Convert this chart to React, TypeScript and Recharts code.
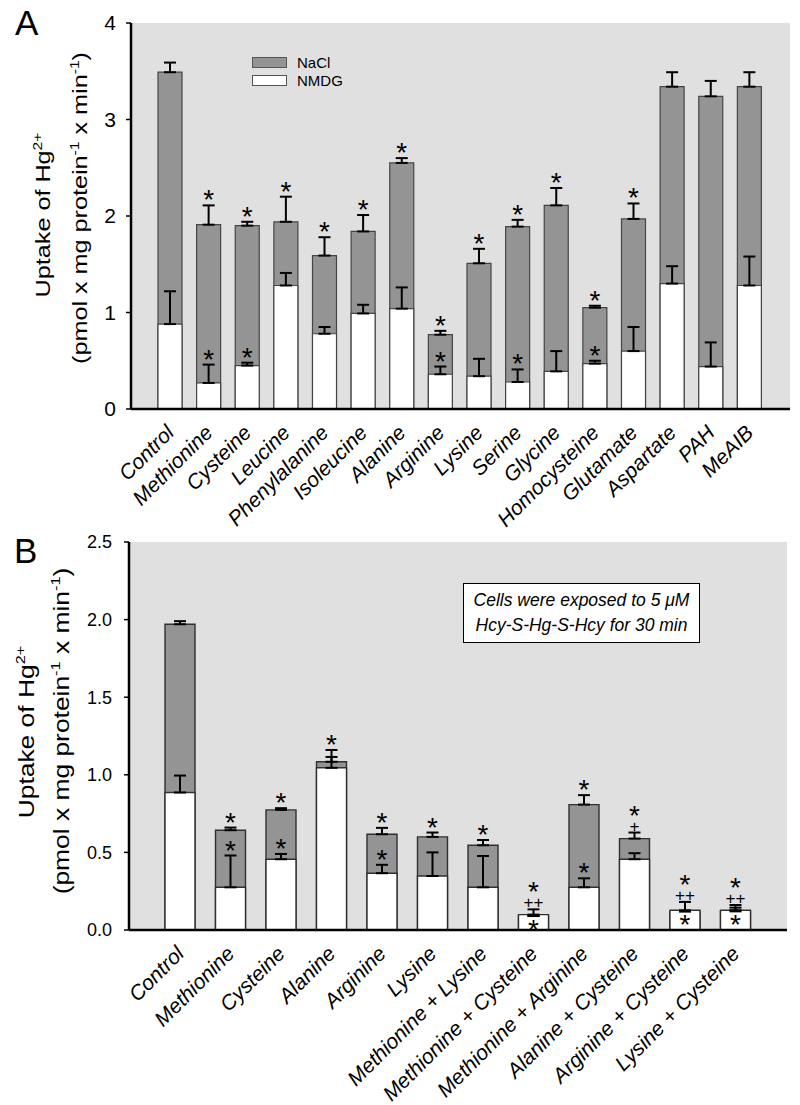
import React from 'react';
import { BarChart, Bar, XAxis, YAxis, CartesianGrid, ErrorBar, LabelList, Legend } from 'recharts';

const FONT = '"Liberation Sans", Arial, Helvetica, sans-serif';

// ---------- Panel A data ----------
const categoriesA = ['Control', 'Methionine', 'Cysteine', 'Leucine', 'Phenylalanine', 'Isoleucine', 'Alanine', 'Arginine', 'Lysine', 'Serine', 'Glycine', 'Homocysteine', 'Glutamate', 'Aspartate', 'PAH', 'MeAIB'];
const naclA = [3.49, 1.91, 1.90, 1.94, 1.59, 1.84, 2.55, 0.77, 1.51, 1.89, 2.11, 1.05, 1.97, 3.34, 3.24, 3.34];
const naclErrA = [0.10, 0.20, 0.04, 0.26, 0.19, 0.17, 0.05, 0.04, 0.15, 0.07, 0.18, 0.02, 0.16, 0.15, 0.16, 0.15];
const nmdgA = [0.88, 0.27, 0.45, 1.28, 0.78, 0.99, 1.04, 0.36, 0.34, 0.28, 0.39, 0.47, 0.60, 1.30, 0.44, 1.28];
const nmdgErrA = [0.34, 0.19, 0.03, 0.13, 0.07, 0.09, 0.22, 0.08, 0.18, 0.13, 0.21, 0.03, 0.25, 0.18, 0.25, 0.30];
const naclSigA = ['', '*', '*', '*', '*', '*', '*', '*', '*', '*', '*', '*', '*', '', '', ''];
const nmdgSigA = ['', '*', '*', '', '', '', '', '*', '', '*', '', '*', '', '', '', ''];
const nmdgInsideA = ['', '', '', '', '', '', '', '', '', '', '', '', '', '', '', ''];
const ticksA = [0, 1, 2, 3, 4];

// ---------- Panel B data ----------
const categoriesB = ['Control', 'Methionine', 'Cysteine', 'Alanine', 'Arginine', 'Lysine', 'Methionine + Lysine', 'Methionine + Cysteine', 'Methionine + Arginine', 'Alanine + Cysteine', 'Arginine + Cysteine', 'Lysine + Cysteine'];
const naclB = [1.97, 0.643, 0.774, 1.084, 0.617, 0.60, 0.546, 0.09, 0.808, 0.589, 0.12, 0.12];
const naclErrB = [0.02, 0.017, 0.011, 0.076, 0.041, 0.028, 0.034, 0, 0.061, 0.039, 0, 0.024];
const nmdgB = [0.886, 0.275, 0.456, 1.045, 0.366, 0.348, 0.275, 0.099, 0.275, 0.456, 0.127, 0.127];
const nmdgErrB = [0.109, 0.205, 0.034, 0.07, 0.054, 0.152, 0.202, 0.034, 0.058, 0.039, 0.054, 0.034];
const naclSigB = ['', '*', '*', '*', '*', '*', '*', '', '*', '*|+', '', ''];
const nmdgSigB = ['', '*', '*', '', '*', '', '', '*|++', '*', '', '*|++', '*|++'];
const nmdgInsideB = ['', '', '', '', '', '', '', '*', '', '', '*', '*'];
const naclInsideB = ['', '', '', '', '', '', '', '', '', '', '', ''];
const ticksB = [0, 0.5, 1.0, 1.5, 2.0, 2.5];

const legendOrder = ['NaCl', 'NMDG'];

const dataA = categoriesA.map((name, i) => ({
  name,
  nacl: naclA[i],
  naclErr: [0, naclErrA[i]],
  nmdg: nmdgA[i],
  nmdgErr: [0, nmdgErrA[i]],
}));

const dataB = categoriesB.map((name, i) => ({
  name,
  nacl: naclB[i],
  naclErr: [0, naclErrB[i]],
  nmdg: nmdgB[i],
  nmdgErr: [0, nmdgErrB[i]],
}));

const GRAY = '#949494';
const BG = '#e0e0e0';
const STAR = 28;
const PLUS = 17;

// One <text> per bar holds the whole stack of significance marks (above the
// error cap) plus an optional mark inside the bar top.
function makeSigLabel(vals: number[], errs: number[], sigs: string[], inside: string[]) {
  return (props: any) => {
    const idx = props.index;
    const s = sigs[idx] || '';
    const ins = inside[idx] || '';
    if (!s && !ins) return null;
    const vb = props.viewBox && props.viewBox.width !== undefined ? props.viewBox : props;
    const x = Number(vb.x);
    const y = Number(vb.y);
    const w = Number(vb.width);
    const h = Number(vb.height);
    const k = h / vals[idx];
    const capY = y - errs[idx] * k;
    const cx = x + w / 2;
    const spans: any[] = [];
    if (s) {
      const lines = s.split('|');
      let bottom = capY - 3;
      for (let j = lines.length - 1; j >= 0; j--) {
        const t = lines[j];
        if (t.startsWith('*')) {
          spans.push(
            <tspan key={`a${j}`} x={cx} y={bottom + 7} fontSize={STAR}>{t}</tspan>
          );
          bottom = bottom - 10 - 3.5;
        } else {
          spans.push(
            <tspan key={`a${j}`} x={cx} y={bottom + 2} fontSize={PLUS}>{t}</tspan>
          );
          bottom = bottom - 8 - 4;
        }
      }
    }
    if (ins) {
      spans.push(
        <tspan key="in" x={cx} y={y + 24} fontSize={STAR}>{ins}</tspan>
      );
    }
    return (
      <text textAnchor="middle" fontFamily={FONT} fill="#000">{spans}</text>
    );
  };
}

function makeTick(fontSize: number, ox: number, oy: number) {
  return (props: any) => {
    const { x, y, payload } = props;
    return (
      <g transform={`translate(${x + ox},${y + oy})`}>
        <text x={0} y={0} textAnchor="end" transform="rotate(-45)" fontSize={fontSize} fontStyle="italic" fontFamily={FONT} fill="#000">
          {payload.value}
        </text>
      </g>
    );
  };
}

function makeYLabel(fontSize: number, x1: number, x2: number, cy1: number, cy2: number, stretch: number) {
  return (props: any) => {
    const vb = props.viewBox || { y: 0, height: 0 };
    const mid = vb.y + vb.height / 2;
    const sup = fontSize * 0.62;
    return (
      <g>
        <text transform={`translate(${x1},${mid + cy1}) rotate(-90) scale(${stretch},1)`} textAnchor="middle" fontSize={fontSize} fontFamily={FONT} fill="#000">
          Uptake of Hg<tspan fontSize={sup} dy={-fontSize * 0.4}>2+</tspan>
        </text>
        <text transform={`translate(${x2},${mid + cy2}) rotate(-90) scale(${stretch},1)`} textAnchor="middle" fontSize={fontSize} fontFamily={FONT} fill="#000">
          (pmol x mg protein<tspan fontSize={sup} dy={-fontSize * 0.4}>-1</tspan>
          <tspan dy={fontSize * 0.4}> x min</tspan>
          <tspan fontSize={sup} dy={-fontSize * 0.4}>-1</tspan>
          <tspan dy={fontSize * 0.4}>)</tspan>
        </text>
      </g>
    );
  };
}

const LegendContent = (props: any) => {
  const payload = [...(props.payload || [])].sort(
    (a: any, b: any) => legendOrder.indexOf(String(a.value)) - legendOrder.indexOf(String(b.value))
  );
  return (
    <div style={{ fontFamily: FONT, fontSize: 15, color: '#000' }}>
      {payload.map((p: any, i: number) => (
        <div key={i} style={{ display: 'flex', alignItems: 'center', height: 18 }}>
          <span style={{ display: 'inline-block', width: 35, height: 11, background: p.color, border: '1px solid #555', boxSizing: 'border-box', marginRight: 10 }} />
          <span>{p.value}</span>
        </div>
      ))}
    </div>
  );
};

const axisLineStyle = { stroke: '#000', strokeWidth: 2.5 };

function PanelA() {
  return (
    <BarChart width={800} height={560} data={dataA} margin={{ top: 23, right: 10, left: 71, bottom: 46 }}>
      <CartesianGrid xAxisId="main" yAxisId="left" horizontal={false} vertical={false} fill={BG} stroke="none" />
      <XAxis xAxisId="main" dataKey="name" interval={0} padding={{ left: 20, right: 21 }} tickLine={false} tickSize={0} tickMargin={0} height={105} axisLine={axisLineStyle} tick={makeTick(21, 5, 25)} />
      <XAxis xAxisId="over" dataKey="name" hide padding={{ left: 20, right: 21 }} />
      <XAxis xAxisId="top" orientation="top" dataKey="name" height={0} tick={false} tickLine={false} axisLine={axisLineStyle} />
      <YAxis yAxisId="left" domain={[0, 4]} ticks={ticksA} width={60} tickSize={5} tickMargin={10} axisLine={axisLineStyle} tickLine={{ stroke: '#000', strokeWidth: 1.5 }} tick={{ fontSize: 21, fill: '#000', fontFamily: FONT }} label={{ content: makeYLabel(21, 50, 87, -1, -8, 1.2) } as any} />
      <YAxis yAxisId="right" orientation="right" domain={[0, 4]} width={0} tick={false} tickLine={false} axisLine={axisLineStyle} />
      <Legend layout="vertical" align="center" verticalAlign="middle" content={LegendContent} wrapperStyle={{ left: 252, top: 53, width: 120 }} />
      <Bar xAxisId="main" yAxisId="left" dataKey="nacl" name="NaCl" fill={GRAY} stroke="#454545" strokeWidth={1.2} barSize={24} isAnimationActive={false}>
        <ErrorBar dataKey="naclErr" direction="y" width={6} stroke="#000" strokeWidth={2} />
        <LabelList dataKey="nacl" content={makeSigLabel(naclA, naclErrA, naclSigA, nmdgInsideA)} />
      </Bar>
      <Bar xAxisId="over" yAxisId="left" dataKey="nmdg" name="NMDG" fill="#ffffff" stroke="#454545" strokeWidth={1.2} barSize={24} isAnimationActive={false}>
        <ErrorBar dataKey="nmdgErr" direction="y" width={6} stroke="#000" strokeWidth={2} />
        <LabelList dataKey="nmdg" content={makeSigLabel(nmdgA, nmdgErrA, nmdgSigA, nmdgInsideA)} />
      </Bar>
    </BarChart>
  );
}

function PanelB() {
  return (
    <BarChart width={800} height={575} data={dataB} margin={{ top: 12, right: 13, left: 69, bottom: 5 }}>
      <CartesianGrid xAxisId="main" yAxisId="left" horizontal={false} vertical={false} fill={BG} stroke="none" />
      <XAxis xAxisId="main" dataKey="name" interval={0} padding={{ left: 26, right: 26 }} tickLine={false} tickSize={0} tickMargin={0} height={170} axisLine={axisLineStyle} tick={makeTick(21, 5, 25)} />
      <XAxis xAxisId="over" dataKey="name" hide padding={{ left: 26, right: 26 }} />
      <XAxis xAxisId="top" orientation="top" dataKey="name" height={0} tick={false} tickLine={false} axisLine={axisLineStyle} />
      <YAxis yAxisId="left" domain={[0, 2.5]} ticks={ticksB} width={60} tickSize={5} tickMargin={12} axisLine={axisLineStyle} tickLine={{ stroke: '#000', strokeWidth: 1.5 }} tickFormatter={(v: number) => v.toFixed(1)} tick={{ fontSize: 18, fill: '#000', fontFamily: FONT }} label={{ content: makeYLabel(22, 34, 69, -4, -5, 1.2) } as any} />
      <YAxis yAxisId="right" orientation="right" domain={[0, 2.5]} width={0} tick={false} tickLine={false} axisLine={axisLineStyle} />
      <Bar xAxisId="main" yAxisId="left" dataKey="nacl" name="NaCl" fill={GRAY} stroke="#303030" strokeWidth={1.4} barSize={30} isAnimationActive={false}>
        <ErrorBar dataKey="naclErr" direction="y" width={6} stroke="#000" strokeWidth={2} />
        <LabelList dataKey="nacl" content={makeSigLabel(naclB, naclErrB, naclSigB, naclInsideB)} />
      </Bar>
      <Bar xAxisId="over" yAxisId="left" dataKey="nmdg" name="NMDG" fill="#ffffff" stroke="#303030" strokeWidth={1.4} barSize={30} isAnimationActive={false}>
        <ErrorBar dataKey="nmdgErr" direction="y" width={6} stroke="#000" strokeWidth={2} />
        <LabelList dataKey="nmdg" content={makeSigLabel(nmdgB, nmdgErrB, nmdgSigB, nmdgInsideB)} />
      </Bar>
    </BarChart>
  );
}

export default function App() {
  return (
    <div style={{ position: 'absolute', left: 0, top: 0, width: 800, height: 1105, background: '#fff', overflow: 'hidden' }}>
      <div style={{ position: 'absolute', left: 0, top: 0 }}>
        <PanelA />
      </div>
      <div style={{ position: 'absolute', left: 0, top: 530 }}>
        <PanelB />
      </div>
      <div style={{ position: 'absolute', left: 15, top: 5, fontFamily: FONT, fontSize: 35, lineHeight: '35px' }}>A</div>
      <div style={{ position: 'absolute', left: 14, top: 533, fontFamily: FONT, fontSize: 35, lineHeight: '35px' }}>B</div>
      <div style={{ position: 'absolute', left: 463, top: 583, width: 237, height: 60, boxSizing: 'border-box', border: '1.5px solid #000', background: '#fff', fontFamily: FONT, fontStyle: 'italic', fontSize: 17.5, lineHeight: '25px', textAlign: 'center', paddingTop: 4 }}>
        <div>Cells were exposed to 5 μM</div>
        <div>Hcy-S-Hg-S-Hcy for 30 min</div>
      </div>
    </div>
  );
}
